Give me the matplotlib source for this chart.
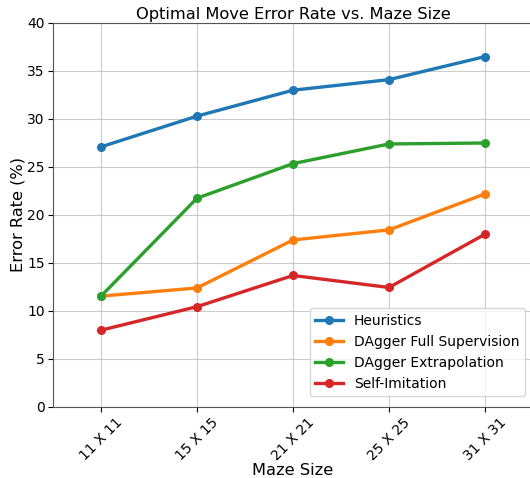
import numpy as np
import matplotlib
matplotlib.use("Agg")
import matplotlib.pyplot as plt

maze_sizes = ["11 X 11", "15 X 15", "21 X 21", "25 X 25", "31 X 31"]
heuristics = [27.1, 30.3, 33.0, 34.1, 36.5]
dagger_full = [11.55, 12.4, 17.4, 18.45, 22.2]
dagger_extrap = [11.55, 21.75, 25.35, 27.4, 27.5]
self_imitation = [8.0, 10.45, 13.7, 12.45, 18.0]

fig = plt.figure(figsize=(5.3, 4.78), dpi=100)
ax = fig.add_axes([53 / 530, 71 / 478, 480 / 530, 384 / 478])

x = np.arange(len(maze_sizes))
ax.plot(x, heuristics, marker="o", lw=2.4, ms=5.5, label="Heuristics")
ax.plot(x, dagger_full, marker="o", lw=2.4, ms=5.5, label="DAgger Full Supervision")
ax.plot(x, dagger_extrap, marker="o", lw=2.4, ms=5.5, label="DAgger Extrapolation")
ax.plot(x, self_imitation, marker="o", lw=2.4, ms=5.5, label="Self-Imitation")

ax.set_xlim(-0.5, 4.5)
ax.set_ylim(0, 40)
ax.set_xticks(x)
ax.set_xticklabels(maze_sizes, rotation=45)
ax.tick_params(labelsize=10, pad=2.5)
ax.grid(True, color="#cccccc", lw=0.8)
for s in ax.spines.values():
    s.set_color("#555555")

ax.set_title("Optimal Move Error Rate vs. Maze Size", fontsize=11.7, pad=3)
ax.set_xlabel("Maze Size", fontsize=11.7, labelpad=0)
ax.set_ylabel("Error Rate (%)", fontsize=11.7, labelpad=1)
ax.legend(loc="lower right", fontsize=10, bbox_to_anchor=(0.998, 0.01))

fig.savefig("out.png", dpi=100)
